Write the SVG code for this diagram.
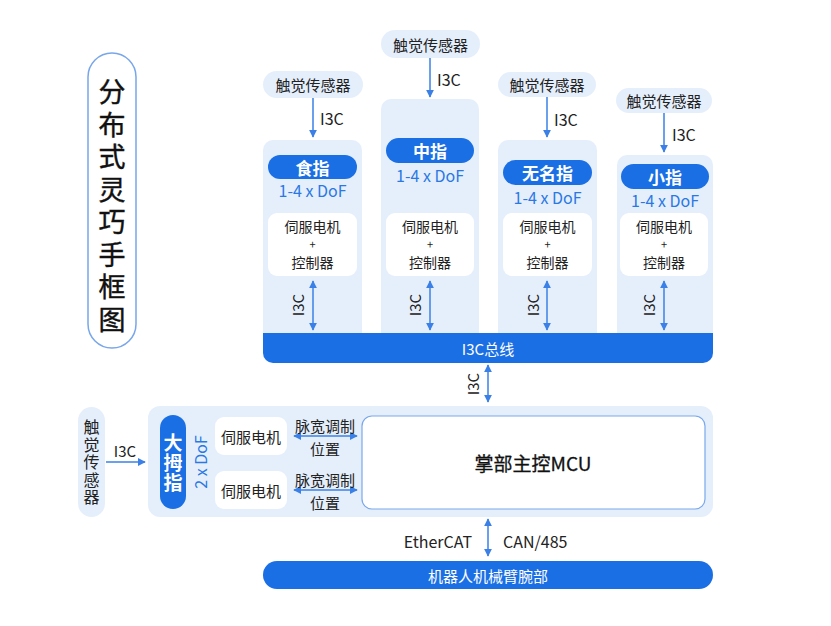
<svg xmlns="http://www.w3.org/2000/svg" width="831" height="626" viewBox="0 0 831 626">
<style>
text{font-family:"Noto Sans CJK SC","Noto Sans",sans-serif;}
.panel{fill:#e5effc;}
.sensor{fill:#e5effc;}
.pill{fill:#1b6fe4;}
.wbox{fill:#ffffff;}
.t{font-size:15px;fill:#222;text-anchor:middle;dominant-baseline:central;}
.s{font-size:14px;fill:#222;text-anchor:middle;}
.tl{font-size:16px;fill:#222;dominant-baseline:central;}
.pt{font-size:17px;font-weight:bold;fill:#fff;text-anchor:middle;dominant-baseline:central;}
.dof{font-size:16px;fill:#2a78e4;text-anchor:middle;dominant-baseline:central;}
.wt{font-size:15px;fill:#fff;text-anchor:middle;dominant-baseline:central;}
.vt{writing-mode:vertical-rl;text-anchor:middle;}
.ln{stroke:#3a80e6;stroke-width:1.5;fill:none;}
</style>
<defs>
<marker id="ah" viewBox="0 0 10 10" refX="9" refY="5" markerWidth="8" markerHeight="8" markerUnits="userSpaceOnUse" orient="auto-start-reverse">
<path d="M0,0 L10,5 L0,10 Z" fill="#3a80e6"/>
</marker>
</defs>
<rect width="831" height="626" fill="#fff"/>

<g id="title">
<rect x="88" y="53" width="48" height="295" rx="24" fill="#fff" stroke="#78a6ea" stroke-width="1.5"/>
<text class="vt" x="112" y="208.5" font-size="27" letter-spacing="5.5" fill="#111" stroke="#111" stroke-width="0.4">分布式灵巧手框图</text>
</g>

<g id="finger-index">
<path class="panel" d="M263,334 V150 a10,10 0 0 1 10,-10 H352 a10,10 0 0 1 10,10 V334 Z"/>
<rect class="pill" x="268" y="155" width="89" height="24" rx="12"/>
<text class="pt" x="312.5" y="167">食指</text>
<text class="dof" x="312.5" y="190">1-4 x DoF</text>
<rect class="wbox" x="268" y="213" width="89" height="63" rx="9"/>
<text class="s"><tspan x="312.5" y="232">伺服电机</tspan><tspan x="312.5" y="249" font-size="11">+</tspan><tspan x="312.5" y="268">控制器</tspan></text>
</g>
<g id="finger-middle">
<path class="panel" d="M381,334 V109 a10,10 0 0 1 10,-10 H469 a10,10 0 0 1 10,10 V334 Z"/>
<rect class="pill" x="386" y="138" width="88" height="25" rx="12.5"/>
<text class="pt" x="430" y="150.5">中指</text>
<text class="dof" x="430" y="175">1-4 x DoF</text>
<rect class="wbox" x="386" y="213" width="88" height="63" rx="9"/>
<text class="s"><tspan x="430" y="232">伺服电机</tspan><tspan x="430" y="249" font-size="11">+</tspan><tspan x="430" y="268">控制器</tspan></text>
</g>
<g id="finger-ring">
<path class="panel" d="M498,334 V150 a10,10 0 0 1 10,-10 H587 a10,10 0 0 1 10,10 V334 Z"/>
<rect class="pill" x="503" y="160" width="89" height="25" rx="12.5"/>
<text class="pt" x="547.5" y="172.5">无名指</text>
<text class="dof" x="547.5" y="197">1-4 x DoF</text>
<rect class="wbox" x="503" y="213" width="89" height="63" rx="9"/>
<text class="s"><tspan x="547.5" y="232">伺服电机</tspan><tspan x="547.5" y="249" font-size="11">+</tspan><tspan x="547.5" y="268">控制器</tspan></text>
</g>
<g id="finger-little">
<path class="panel" d="M617,334 V165 a10,10 0 0 1 10,-10 H703 a10,10 0 0 1 10,10 V334 Z"/>
<rect class="pill" x="621" y="164" width="88" height="25" rx="12.5"/>
<text class="pt" x="665" y="176.5">小指</text>
<text class="dof" x="665" y="200">1-4 x DoF</text>
<rect class="wbox" x="620" y="213" width="88" height="63" rx="9"/>
<text class="s"><tspan x="664" y="232">伺服电机</tspan><tspan x="664" y="249" font-size="11">+</tspan><tspan x="664" y="268">控制器</tspan></text>
</g>

<g id="bus">
<path d="M263,333 H713 V353 a10,10 0 0 1 -10,10 H273 a10,10 0 0 1 -10,-10 Z" fill="#1b6fe4"/>
<text class="wt" x="488" y="348">I3C总线</text>
</g>

<g id="sensor-index"><rect class="sensor" x="263" y="71" width="100" height="27" rx="13.5"/><text class="t" x="313" y="84.5" font-size="16">触觉传感器</text></g>
<g id="sensor-middle"><rect class="sensor" x="381" y="30" width="99" height="28" rx="14"/><text class="t" x="430.5" y="44" font-size="16">触觉传感器</text></g>
<g id="sensor-ring"><rect class="sensor" x="498" y="72" width="98" height="25" rx="12.5"/><text class="t" x="547" y="84.5" font-size="16">触觉传感器</text></g>
<g id="sensor-little"><rect class="sensor" x="616" y="88" width="96" height="25" rx="12.5"/><text class="t" x="664" y="100.5" font-size="16">触觉传感器</text></g>

<g id="palm">
<rect x="148" y="406" width="565" height="111" rx="12" fill="#e5effc"/>
</g>
<g id="mcu">
<rect x="362" y="416" width="343" height="93" rx="10" fill="#fff" stroke="#7aa8ea" stroke-width="1.2"/>
<text x="533" y="462" font-size="19" fill="#111" stroke="#111" stroke-width="0.3" text-anchor="middle" dominant-baseline="central">掌部主控MCU</text>
</g>
<g id="thumb">
<rect class="pill" x="160" y="415" width="26" height="94" rx="13"/>
<text class="vt" x="173" y="463" font-size="19" font-weight="bold" letter-spacing="1" fill="#fff">大拇指</text>
<text class="dof" transform="translate(200,462) rotate(-90)" x="0" y="0">2 x DoF</text>
</g>
<g id="servo-1"><rect class="wbox" x="215" y="417" width="72" height="38" rx="9"/><text class="t" x="251" y="436" font-size="16">伺服电机</text></g>
<g id="servo-2"><rect class="wbox" x="215" y="471" width="72" height="38" rx="9"/><text class="t" x="251" y="490" font-size="16">伺服电机</text></g>
<g id="sensor-thumb">
<rect class="sensor" x="78" y="407" width="27" height="110" rx="13.5"/>
<text class="vt" x="91.5" y="463" font-size="16" letter-spacing="1.5" fill="#222">触觉传感器</text>
</g>
<g id="arm">
<rect class="pill" x="263" y="561" width="450" height="28" rx="14"/>
<text class="wt" x="488" y="575" font-size="16">机器人机械臂腕部</text>
</g>

<g id="connectors">
<line class="ln" x1="313" y1="98" x2="313" y2="137" marker-end="url(#ah)"/>
<text class="tl" x="320" y="118">I3C</text>
<line class="ln" x1="430" y1="58" x2="430" y2="97" marker-end="url(#ah)"/>
<text class="tl" x="437" y="79">I3C</text>
<line class="ln" x1="547" y1="97" x2="547" y2="137" marker-end="url(#ah)"/>
<text class="tl" x="554" y="119">I3C</text>
<line class="ln" x1="664" y1="113" x2="664" y2="152" marker-end="url(#ah)"/>
<text class="tl" x="672" y="134">I3C</text>

<line class="ln" x1="313" y1="281" x2="313" y2="330" marker-start="url(#ah)" marker-end="url(#ah)"/>
<text class="t" transform="translate(297,305) rotate(-90)">I3C</text>
<line class="ln" x1="430" y1="281" x2="430" y2="330" marker-start="url(#ah)" marker-end="url(#ah)"/>
<text class="t" transform="translate(414,305) rotate(-90)">I3C</text>
<line class="ln" x1="547" y1="281" x2="547" y2="330" marker-start="url(#ah)" marker-end="url(#ah)"/>
<text class="t" transform="translate(532,305) rotate(-90)">I3C</text>
<line class="ln" x1="664" y1="281" x2="664" y2="330" marker-start="url(#ah)" marker-end="url(#ah)"/>
<text class="t" transform="translate(648,305) rotate(-90)">I3C</text>

<line class="ln" x1="488" y1="365" x2="488" y2="402" marker-start="url(#ah)" marker-end="url(#ah)"/>
<text class="t" transform="translate(472,384) rotate(-90)">I3C</text>

<line class="ln" x1="106" y1="462" x2="145" y2="462" marker-end="url(#ah)"/>
<text class="t" x="125" y="450" font-size="16">I3C</text>

<line class="ln" x1="294" y1="436" x2="357" y2="436" marker-start="url(#ah)" marker-end="url(#ah)"/>
<text class="t" x="325" y="425" font-size="13">脉宽调制</text>
<text class="t" x="325" y="448" font-size="13">位置</text>
<line class="ln" x1="294" y1="490" x2="357" y2="490" marker-start="url(#ah)" marker-end="url(#ah)"/>
<text class="t" x="325" y="479" font-size="13">脉宽调制</text>
<text class="t" x="325" y="502" font-size="13">位置</text>

<line class="ln" x1="488" y1="519" x2="488" y2="556" marker-start="url(#ah)" marker-end="url(#ah)"/>
<text class="tl" x="472" y="541" text-anchor="end">EtherCAT</text>
<text class="tl" x="503" y="541">CAN/485</text>
</g>
</svg>
